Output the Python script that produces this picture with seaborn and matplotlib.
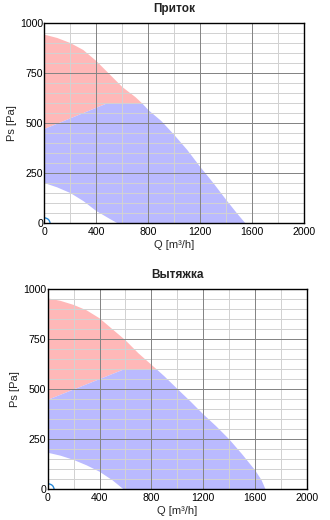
import numpy as np
import matplotlib
matplotlib.use("Agg")
import matplotlib.pyplot as plt
import seaborn as sns

# Supply fan ("Приток") operating field
supply_upper_q = [0, 100, 200, 300, 400, 500, 600, 700, 750, 800, 900, 1000, 1100, 1200, 1300, 1400, 1480, 1545]
supply_upper_ps = [942, 925, 900, 865, 810, 745, 680, 630, 600, 565, 510, 440, 365, 280, 200, 115, 50, 0]
supply_limit_q = [0, 490, 750]
supply_limit_ps = [470, 600, 600]
supply_lower_q = [0, 100, 200, 300, 400, 500, 560]
supply_lower_ps = [200, 178, 150, 110, 60, 22, 0]

# Exhaust fan ("Вытяжка") operating field
exhaust_upper_q = [0, 100, 200, 300, 400, 500, 600, 700, 840, 900, 1000, 1100, 1200, 1300, 1400, 1500, 1600, 1650, 1680]
exhaust_upper_ps = [955, 942, 922, 895, 855, 800, 745, 680, 600, 565, 502, 440, 375, 315, 250, 175, 95, 45, 0]
exhaust_limit_q = [0, 590, 840]
exhaust_limit_ps = [447, 600, 600]
exhaust_lower_q = [0, 100, 200, 300, 400, 500, 585]
exhaust_lower_ps = [183, 168, 147, 120, 88, 45, 0]

titles = ["Приток", "Вытяжка"]
x_ticks = [0, 400, 800, 1200, 1600, 2000]
y_ticks = [0, 250, 500, 750, 1000]
x_minor = np.arange(0, 2001, 200)
y_minor = np.arange(0, 1001, 50)

RED = "#ffb8b8"
BLUE = "#babaff"

sns.set_style("white")
plt.rcParams["font.family"] = ["Liberation Sans", "DejaVu Sans"]

fig = plt.figure(figsize=(3.3, 5.2), dpi=100)
axes = [
    fig.add_axes([44.3 / 330, 297 / 520, 260 / 330, 200 / 520]),
    fig.add_axes([47.7 / 330, 30.7 / 520, 259.3 / 330, 200 / 520]),
]

datasets = [
    (supply_upper_q, supply_upper_ps, supply_limit_q, supply_limit_ps, supply_lower_q, supply_lower_ps),
    (exhaust_upper_q, exhaust_upper_ps, exhaust_limit_q, exhaust_limit_ps, exhaust_lower_q, exhaust_lower_ps),
]

PX = 72 / 100  # one pixel in points


def grid_lines(ax, xs, ys, color, z):
    v = ax.vlines(xs, 0, 1000, colors=color, lw=PX, zorder=z)
    h = ax.hlines(ys, 0, 2000, colors=color, lw=PX, zorder=z)
    for coll in (v, h):
        coll.set_snap(True)
        coll.set_antialiased(False)


for ax, title, (uq, ups, lq, lps, wq, wps) in zip(axes, titles, datasets):
    uq = np.array(uq); ups = np.array(ups)
    kink = lq[-1]
    left = uq <= kink
    right = uq >= kink

    # red zone: above the pressure limit line, below the fan curve
    red_x = list(uq[left]) + lq[::-1]
    red_y = list(ups[left]) + lps[::-1]
    ax.fill(red_x, red_y, color=RED, lw=0, zorder=2)

    # blue zone: below the limit line / fan curve, above the minimum curve
    blue_x = lq + list(uq[right]) + wq[::-1]
    blue_y = lps + list(ups[right]) + wps[::-1]
    ax.fill(blue_x, blue_y, color=BLUE, lw=0, zorder=2)

    sns.lineplot(x=uq, y=ups, ax=ax, color=RED, lw=0.0, zorder=2)

    # light minor grid first, darker major grid on top of it
    grid_lines(ax, x_minor, y_minor, "#d2d2d2", 3)
    grid_lines(ax, x_ticks, y_ticks, "#858585", 3.5)

    ax.plot([0], [0], "o", mfc="none", mec="#2a8ad8", ms=8, mew=1.0, zorder=4, clip_on=True)

    ax.set_xlim(0, 2000)
    ax.set_ylim(0, 1000)
    ax.set_xticks(x_ticks)
    ax.set_yticks(y_ticks)
    ax.set_xticklabels([str(v) for v in x_ticks])
    ax.set_yticklabels([str(v) for v in y_ticks])
    ax.grid(False)
    ax.tick_params(which="both", length=0, labelsize=7.6, colors="black")
    ax.tick_params(axis="x", pad=3)
    ax.tick_params(axis="y", pad=1)
    for s in ax.spines.values():
        s.set_color("black")
        s.set_linewidth(1.0)
        s.set_zorder(5)
    ax.set_xlabel("Q [m³/h]", fontsize=8, labelpad=2)
    ax.set_ylabel("Ps [Pa]", fontsize=8, labelpad=2)
    ax.set_title(title, fontsize=8.5, fontweight="bold", color="#222222", pad=8)

fig.savefig("out.png", dpi=100)
